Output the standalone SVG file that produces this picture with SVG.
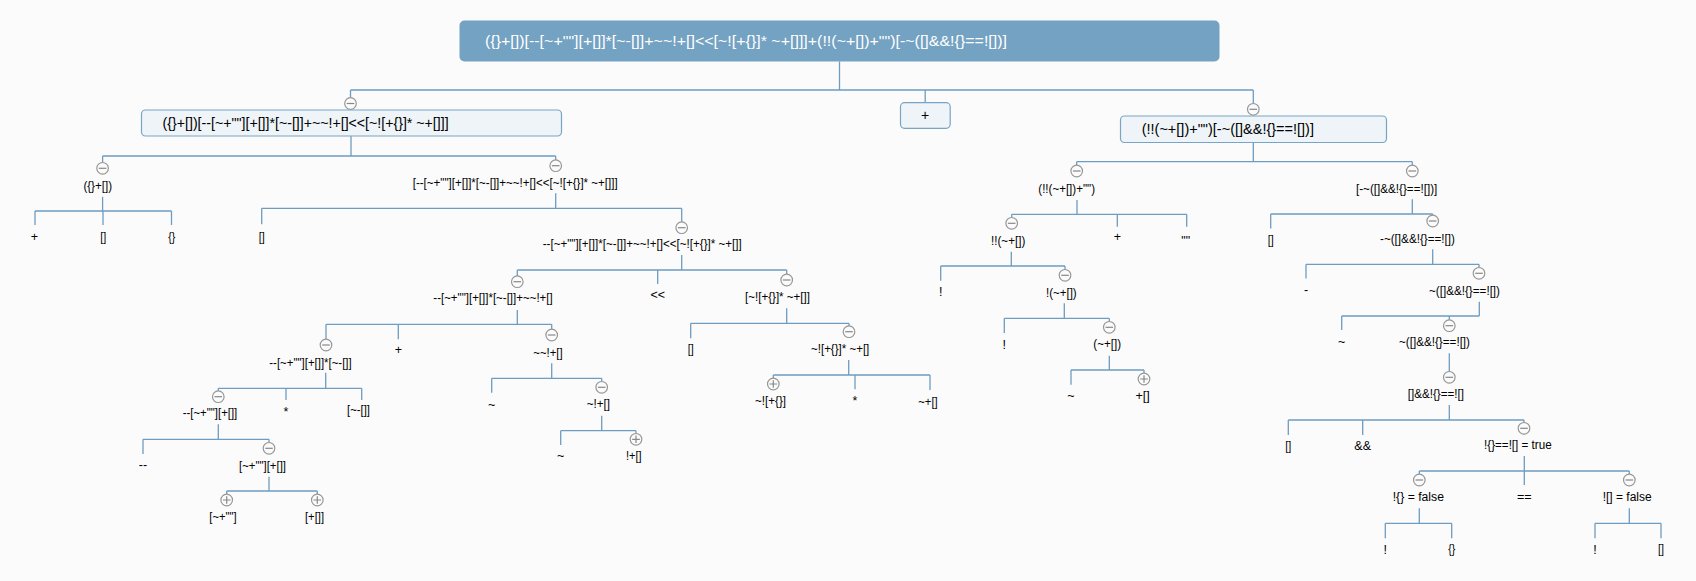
<svg xmlns="http://www.w3.org/2000/svg" xmlns:xlink="http://www.w3.org/1999/xlink" width="1696" height="581" viewBox="0 0 1696 581">
<style>
.bg{fill:#fbfbfb}
.ln{fill:none;stroke:#6e9dc1;stroke-width:1.3}
.t{font-family:"Liberation Sans",Arial,sans-serif;font-size:12.5px;fill:#000000}
.c{text-anchor:middle}
.l1{font-family:"Liberation Sans",Arial,sans-serif;font-size:14px;fill:#000000}
.rt{font-family:"Liberation Sans",Arial,sans-serif;font-size:15px;fill:#ffffff}
.root{fill:#74a2c2}
.box{fill:#eef4f8;stroke:#79a5c4;stroke-width:1.2}
.tg circle{fill:#fbfbfb;stroke:#979797;stroke-width:1.2}
.tg path{stroke:#888888;stroke-width:1.2}
</style>
<defs>
<g id="cm" class="tg"><circle r="5.8"/><path d="M-3.8,0H3.8"/></g>
<g id="cp" class="tg"><circle r="5.8"/><path d="M-3.8,0H3.8M0,-3.8V3.8"/></g>
</defs>
<rect class="bg" x="0" y="0" width="1696" height="581"/>

<g id="connectors" class="ln">
<path d="M839.5,61.5V90M350.5,90H1253.3M350.5,90V98M925.2,90V102.7M1253.3,90V103.8"/>
<path d="M351,136V156M102.6,156H555.7M102.6,156V162.8M555.7,156V160.2"/>
<path d="M102.6,196.7V211M35,211H171.5M35,211V225M103,211V225M171.5,211V225"/>
<path d="M555.7,193.3V208.3M261.7,208.3H681.7M261.7,208.3V224.3M681.7,208.3V222.2"/>
<path d="M681.7,255V270M517.3,270H786.7M517.3,270V276.2M657.7,270V284M786.7,270V274.5"/>
<path d="M517.3,310V324.3M326,324.3H551.7M326,324.3V339.5M398.3,324.3V339.3M551.7,324.3V329.5"/>
<path d="M325.7,372.7V388.3M218.3,388.3H361.7M218.3,388.3V391.2M286,388.3V400M361.7,388.3V400"/>
<path d="M218.3,424.3V439.3M143,439.3H269M143,439.3V454M269,439.3V442.8"/>
<path d="M269,476.7V491M226.7,491H317.3M226.7,491V494.5M317.3,491V494.5"/>
<path d="M551.7,363.3V378.3M491.7,378.3H601.7M491.7,378.3V392.7M601.7,378.3V381.8"/>
<path d="M601.7,415.7V430.7M560.7,430.7H636M560.7,430.7V445M636,430.7V433.8"/>
<path d="M786.7,308.3V323.3M690.7,323.3H849M690.7,323.3V338.3M849,323.3V326.2"/>
<path d="M848.7,360V375M773.3,375H930M773.3,375V378.5M855,375V389.3M930,375V390"/>
<path d="M1253.3,142.7V161.7M1076.7,161.7H1412.3M1076.7,161.7V165.5M1412.3,161.7V165.5"/>
<path d="M1077,200V214.3M1011.7,214.3H1186.7M1011.7,214.3V217.8M1117.3,214.3V226.7M1186.7,214.3V226.7"/>
<path d="M1011.3,251.7V266M940.7,266H1065M940.7,266V280.7M1065,266V269.8"/>
<path d="M1064.3,303.3V318.3M1004.3,318.3H1109.3M1004.3,318.3V333M1109.3,318.3V321.8"/>
<path d="M1109.3,355.7V370M1071,370H1144M1071,370V384.7M1144,370V373.5"/>
<path d="M1412.3,199.3V214M1270.7,214H1432.7M1270.7,214V228.5M1432.7,214V215.5"/>
<path d="M1432.7,249.3V264.3M1306,264.3H1479M1306,264.3V278.5M1479,264.3V267.8"/>
<path d="M1479.3,301.7V316M1341.7,316H1479.3M1341.7,316V330M1449.3,316V320.2"/>
<path d="M1449.3,353.3V371.8"/>
<path d="M1449.3,405V420M1288.3,420H1524M1288.3,420V435M1362.7,420V435M1524,420V422.8"/>
<path d="M1524.3,456V471M1419.3,471H1629.3M1419.3,471V474.5M1524.3,471V485M1629.3,471V474.5"/>
<path d="M1419.3,508.3V523.3M1385.3,523.3H1451.7M1385.3,523.3V538.3M1451.7,523.3V538.3"/>
<path d="M1629.3,508.3V523.3M1595,523.3H1661M1595,523.3V538.3M1661,523.3V538.3"/>
</g>

<g id="n-root">
<rect class="root" x="459.5" y="20.5" width="760" height="41" rx="5"/>
<text class="rt" x="485" y="45.5" textLength="522" lengthAdjust="spacingAndGlyphs">({}+[])[--[~+""][+[]]*[~-[]]+~~!+[]&lt;&lt;[~![+{}]* ~+[]]]+(!!(~+[])+"")[-~([]&amp;&amp;!{}==![])]</text>
</g>

<g id="n-left">
<use xlink:href="#cm" x="350.5" y="103.5"/>
<rect class="box" x="141.5" y="110" width="420" height="26" rx="4"/>
<text class="l1" x="162.6" y="128.3" textLength="286" lengthAdjust="spacingAndGlyphs">({}+[])[--[~+""][+[]]*[~-[]]+~~!+[]&lt;&lt;[~![+{}]* ~+[]]]</text>
</g>

<g id="n-plus">
<rect class="box" x="900.5" y="102.7" width="49.7" height="25.6" rx="4"/>
<text class="l1 c" x="925.2" y="119.5">+</text>
</g>

<g id="n-right">
<use xlink:href="#cm" x="1253.3" y="109.3"/>
<rect class="box" x="1120.5" y="116" width="266" height="26.5" rx="4"/>
<text class="l1" x="1141.7" y="134.3" textLength="172.3" lengthAdjust="spacingAndGlyphs">(!!(~+[])+"")[-~([]&amp;&amp;!{}==![])]</text>
</g>

<g id="n-a">
<use xlink:href="#cm" x="102.6" y="168.3"/>
<text class="t" x="83.4" y="190.2" textLength="28.6" lengthAdjust="spacingAndGlyphs">({}+[])</text>
</g>
<g id="n-a1"><text class="t c" x="34.4" y="240.7">+</text></g>
<g id="n-a2"><text class="t c" x="103.3" y="240.7" textLength="6" lengthAdjust="spacingAndGlyphs">[]</text></g>
<g id="n-a3"><text class="t c" x="171.8" y="240.7" textLength="7" lengthAdjust="spacingAndGlyphs">{}</text></g>

<g id="n-b">
<use xlink:href="#cm" x="555.7" y="165.7"/>
<text class="t" x="412.7" y="186.8" textLength="205" lengthAdjust="spacingAndGlyphs">[--[~+""][+[]]*[~-[]]+~~!+[]&lt;&lt;[~![+{}]* ~+[]]]</text>
</g>
<g id="n-b1"><text class="t c" x="261.7" y="240.7" textLength="6" lengthAdjust="spacingAndGlyphs">[]</text></g>

<g id="n-c">
<use xlink:href="#cm" x="681.7" y="227.7"/>
<text class="t" x="542.7" y="248.4" textLength="199" lengthAdjust="spacingAndGlyphs">--[~+""][+[]]*[~-[]]+~~!+[]&lt;&lt;[~![+{}]* ~+[]]</text>
</g>
<g id="n-c2"><text class="t c" x="657.7" y="299.3">&lt;&lt;</text></g>

<g id="n-d">
<use xlink:href="#cm" x="517.3" y="281.7"/>
<text class="t" x="433.3" y="301.8" textLength="119.4" lengthAdjust="spacingAndGlyphs">--[~+""][+[]]*[~-[]]+~~!+[]</text>
</g>
<g id="n-d2"><text class="t c" x="398.3" y="353.8">+</text></g>

<g id="n-e">
<use xlink:href="#cm" x="326" y="345"/>
<text class="t" x="269.3" y="366.8" textLength="82.4" lengthAdjust="spacingAndGlyphs">--[~+""][+[]]*[~-[]]</text>
</g>
<g id="n-e2"><text class="t c" x="286" y="415.5">*</text></g>
<g id="n-e3"><text class="t" x="347" y="414.2" textLength="23" lengthAdjust="spacingAndGlyphs">[~-[]]</text></g>

<g id="n-f">
<use xlink:href="#cm" x="218.3" y="396.7"/>
<text class="t" x="182.7" y="417.4" textLength="54.6" lengthAdjust="spacingAndGlyphs">--[~+""][+[]]</text>
</g>
<g id="n-f1"><text class="t c" x="143" y="469">--</text></g>

<g id="n-g">
<use xlink:href="#cm" x="269" y="448.3"/>
<text class="t" x="239" y="470.1" textLength="47" lengthAdjust="spacingAndGlyphs">[~+""][+[]]</text>
</g>
<g id="n-g1">
<use xlink:href="#cp" x="226.7" y="500"/>
<text class="t" x="209.3" y="520.8" textLength="27.4" lengthAdjust="spacingAndGlyphs">[~+""]</text>
</g>
<g id="n-g2">
<use xlink:href="#cp" x="317.3" y="500"/>
<text class="t" x="305" y="520.8" textLength="19" lengthAdjust="spacingAndGlyphs">[+[]]</text>
</g>

<g id="n-h">
<use xlink:href="#cm" x="551.7" y="335"/>
<text class="t" x="533.3" y="356.8" textLength="29.4" lengthAdjust="spacingAndGlyphs">~~!+[]</text>
</g>
<g id="n-h1"><text class="t c" x="491.7" y="408.5">~</text></g>

<g id="n-i">
<use xlink:href="#cm" x="601.7" y="387.3"/>
<text class="t" x="586.7" y="408.1" textLength="23.3" lengthAdjust="spacingAndGlyphs">~!+[]</text>
</g>
<g id="n-i1"><text class="t c" x="560.7" y="460.2">~</text></g>
<g id="n-i2">
<use xlink:href="#cp" x="636" y="439.3"/>
<text class="t" x="626" y="459.8" textLength="15.7" lengthAdjust="spacingAndGlyphs">!+[]</text>
</g>

<g id="n-j">
<use xlink:href="#cm" x="786.7" y="280"/>
<text class="t" x="745" y="301.4" textLength="65" lengthAdjust="spacingAndGlyphs">[~![+{}]* ~+[]]</text>
</g>
<g id="n-j1"><text class="t c" x="690.7" y="353.4" textLength="6" lengthAdjust="spacingAndGlyphs">[]</text></g>

<g id="n-k">
<use xlink:href="#cm" x="849" y="331.7"/>
<text class="t" x="811" y="353.4" textLength="58.3" lengthAdjust="spacingAndGlyphs">~![+{}]* ~+[]</text>
</g>
<g id="n-k1">
<use xlink:href="#cp" x="773.3" y="384"/>
<text class="t" x="755" y="405.1" textLength="31" lengthAdjust="spacingAndGlyphs">~![+{}]</text>
</g>
<g id="n-k2"><text class="t c" x="855" y="404.8">*</text></g>
<g id="n-k3"><text class="t" x="918.3" y="405.8" textLength="19.4" lengthAdjust="spacingAndGlyphs">~+[]</text></g>

<g id="n-m">
<use xlink:href="#cm" x="1076.7" y="171"/>
<text class="t" x="1038.3" y="193.1" textLength="56.7" lengthAdjust="spacingAndGlyphs">(!!(~+[])+"")</text>
</g>
<g id="n-m2"><text class="t c" x="1117.3" y="240.5">+</text></g>
<g id="n-m3"><text class="t c" x="1185.7" y="244.5">""</text></g>

<g id="n-n">
<use xlink:href="#cm" x="1011.7" y="223.3"/>
<text class="t" x="991" y="244.8" textLength="34.3" lengthAdjust="spacingAndGlyphs">!!(~+[])</text>
</g>
<g id="n-n1"><text class="t c" x="940.7" y="296.4">!</text></g>

<g id="n-o">
<use xlink:href="#cm" x="1065" y="275.3"/>
<text class="t" x="1046" y="296.8" textLength="30.7" lengthAdjust="spacingAndGlyphs">!(~+[])</text>
</g>
<g id="n-o1"><text class="t c" x="1004.3" y="349">!</text></g>

<g id="n-p">
<use xlink:href="#cm" x="1109.3" y="327.3"/>
<text class="t" x="1093.3" y="348.4" textLength="27.7" lengthAdjust="spacingAndGlyphs">(~+[])</text>
</g>
<g id="n-p1"><text class="t c" x="1071" y="400.4">~</text></g>
<g id="n-p2">
<use xlink:href="#cp" x="1144" y="379"/>
<text class="t c" x="1142.7" y="399.8">+[]</text>
</g>

<g id="n-q">
<use xlink:href="#cm" x="1412.3" y="171"/>
<text class="t" x="1356" y="193.1" textLength="81.3" lengthAdjust="spacingAndGlyphs">[-~([]&amp;&amp;!{}==![])]</text>
</g>
<g id="n-q1"><text class="t c" x="1270.7" y="244.2" textLength="6" lengthAdjust="spacingAndGlyphs">[]</text></g>

<g id="n-r">
<use xlink:href="#cm" x="1432.7" y="221"/>
<text class="t" x="1380" y="243.1" textLength="75" lengthAdjust="spacingAndGlyphs">-~([]&amp;&amp;!{}==![])</text>
</g>
<g id="n-r1"><text class="t c" x="1306" y="294.2">-</text></g>

<g id="n-s">
<use xlink:href="#cm" x="1479" y="273.3"/>
<text class="t" x="1429" y="294.8" textLength="71" lengthAdjust="spacingAndGlyphs">~([]&amp;&amp;!{}==![])</text>
</g>
<g id="n-s1"><text class="t c" x="1341.7" y="346.4">~</text></g>

<g id="n-u">
<use xlink:href="#cm" x="1449.3" y="325.7"/>
<text class="t" x="1399" y="346.4" textLength="71" lengthAdjust="spacingAndGlyphs">~([]&amp;&amp;!{}==![])</text>
</g>

<g id="n-v">
<use xlink:href="#cm" x="1449.3" y="377.3"/>
<text class="t" x="1407.7" y="398.4" textLength="56.3" lengthAdjust="spacingAndGlyphs">[]&amp;&amp;!{}==![]</text>
</g>
<g id="n-v1"><text class="t c" x="1288.3" y="450.1" textLength="6" lengthAdjust="spacingAndGlyphs">[]</text></g>
<g id="n-v2"><text class="t c" x="1362.7" y="450.1">&amp;&amp;</text></g>

<g id="n-w">
<use xlink:href="#cm" x="1524" y="428.3"/>
<text class="t" x="1484" y="449.1" textLength="67.7" lengthAdjust="spacingAndGlyphs">!{}==![] = true</text>
</g>
<g id="n-w2"><text class="t c" x="1524.3" y="501">==</text></g>

<g id="n-x">
<use xlink:href="#cm" x="1419.3" y="480"/>
<text class="t" x="1392.7" y="500.8" textLength="51.3" lengthAdjust="spacingAndGlyphs">!{} = false</text>
</g>
<g id="n-x1"><text class="t c" x="1385.3" y="554">!</text></g>
<g id="n-x2"><text class="t c" x="1451.7" y="553.4" textLength="7" lengthAdjust="spacingAndGlyphs">{}</text></g>

<g id="n-y">
<use xlink:href="#cm" x="1629.3" y="480"/>
<text class="t" x="1602.7" y="500.8" textLength="49" lengthAdjust="spacingAndGlyphs">![] = false</text>
</g>
<g id="n-y1"><text class="t c" x="1595" y="554">!</text></g>
<g id="n-y2"><text class="t c" x="1661" y="553.4" textLength="6" lengthAdjust="spacingAndGlyphs">[]</text></g>
</svg>
